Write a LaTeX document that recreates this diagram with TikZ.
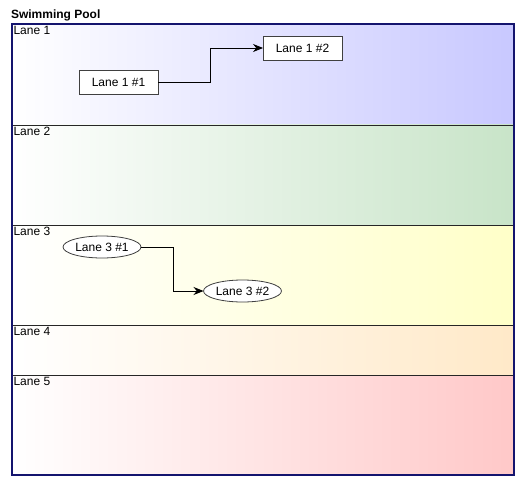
\documentclass[tikz,border=0pt]{standalone}
\usepackage{fontspec}
\setmainfont{Liberation Sans}
\usetikzlibrary{shapes.geometric,arrows.meta}
\definecolor{laneblue}{RGB}{200,200,255}
\definecolor{lanegreen}{RGB}{200,228,200}
\definecolor{laneyellow}{RGB}{255,255,200}
\definecolor{laneorange}{RGB}{255,233,200}
\definecolor{lanered}{RGB}{255,200,200}
\definecolor{poolnavy}{RGB}{20,20,110}
\begin{document}
\begin{tikzpicture}
[x=1pt,y=-1pt,
 every node/.style={font=\fontsize{12}{14}\selectfont,inner sep=0pt,outer sep=0pt},
 lane/.style={draw=black!85,line width=0.8pt,shade,left color=white,right color=#1,
   minimum width=502pt,minimum height=100pt,anchor=north west},
 lanename/.style={anchor=north west,inner xsep=1.5pt,inner ysep=2.5pt},
 taskbox/.style={rectangle,draw=black!75,line width=0.9pt,fill=white,
   minimum width=79pt,minimum height=24pt},
 taskoval/.style={ellipse,draw=black!75,line width=0.8pt,fill=white,
   minimum width=78pt,minimum height=22pt},
 flow/.style={-{Stealth[length=10pt,width=8pt]},line width=0.8pt}]
\useasboundingbox (0,0) rectangle (528,487);
\node [anchor=west,font=\fontsize{12}{14}\selectfont\bfseries] (title) at (11,15) {Swimming Pool};
% lanes
\node [lane=laneblue] (lane1) at (12,24) {};
\node [lane=lanegreen] (lane2) at (12,125) {};
\node [lane=laneyellow] (lane3) at (12,225) {};
\node [lane=laneorange,minimum height=50pt] (lane4) at (12,325) {};
\node [lane=lanered] (lane5) at (12,375) {};
\draw [poolnavy,line width=2pt] (lane1.north west) rectangle (lane5.south east);
\foreach \n in {1,...,5}
  \node [lanename] at (lane\n.north west) {Lane \n};
% tasks
\node [taskbox] (l1a) at (118.5,82) {Lane 1 \#1};
\node [taskbox] (l1b) at (302.5,48) {Lane 1 \#2};
\node [taskoval] (l3a) at (102,247) {Lane 3 \#1};
\node [taskoval] (l3b) at (242.5,291) {Lane 3 \#2};
\draw [flow] (l1a.east) -- ++(52,0) |- (l1b.west);
\draw [flow] (l3a.east) -- ++(32,0) |- (l3b.west);
\end{tikzpicture}
\end{document}
